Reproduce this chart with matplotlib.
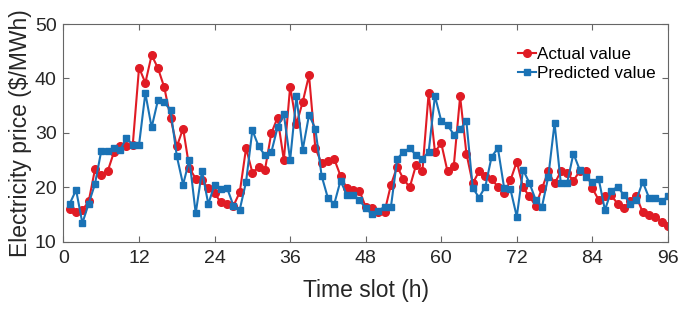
import matplotlib
matplotlib.use("Agg")
import matplotlib.pyplot as plt

# time slots (h)
hours = list(range(1, 97))

actual = [16.0, 15.5, 15.8, 17.4, 23.3, 22.3, 22.9, 26.4, 27.5, 27.5, 27.8, 42.0,
          39.2, 44.3, 41.9, 38.4, 32.8, 27.5, 30.8, 23.5, 21.6, 21.3, 19.8, 18.9,
          17.2, 16.9, 16.6, 19.1, 27.2, 22.7, 23.7, 23.2, 29.9, 32.8, 25.0, 38.5,
          31.6, 35.7, 40.6, 27.2, 24.4, 24.9, 25.2, 22.1, 19.8, 19.5, 19.4, 16.4,
          16.1, 15.5, 15.5, 20.4, 23.8, 21.5, 20.0, 24.1, 22.9, 37.3, 26.5, 28.1,
          22.9, 24.0, 36.7, 26.2, 20.7, 22.9, 22.1, 21.5, 20.1, 18.9, 21.3, 24.7,
          20.0, 18.3, 16.6, 19.8, 22.9, 20.7, 22.9, 22.6, 21.2, 23.0, 22.9, 19.8,
          17.7, 18.3, 18.5, 17.0, 16.1, 17.4, 18.3, 15.4, 14.9, 14.6, 13.7, 12.9]

predicted = [17.0, 19.5, 13.4, 17.0, 20.6, 26.7, 26.7, 27.2, 26.9, 29.0, 27.8, 27.8,
             37.3, 31.0, 36.0, 35.6, 34.2, 25.7, 20.5, 25.1, 15.2, 23.0, 16.9, 20.5,
             19.7, 19.8, 16.6, 15.9, 21.0, 30.5, 27.5, 25.9, 26.4, 31.0, 33.4, 25.0,
             36.7, 26.9, 33.3, 30.8, 22.1, 18.0, 16.9, 21.2, 18.6, 18.6, 17.7, 16.1,
             15.1, 15.7, 16.4, 16.3, 25.2, 26.5, 27.2, 25.9, 25.2, 26.5, 36.8, 32.2,
             31.4, 29.7, 30.7, 32.1, 19.9, 18.1, 20.1, 25.6, 27.2, 19.8, 19.6, 14.6,
             23.2, 20.8, 17.7, 16.4, 21.9, 31.8, 20.7, 20.8, 26.2, 23.2, 21.9, 21.0,
             21.6, 15.8, 19.3, 20.1, 18.6, 17.0, 17.7, 21.0, 18.1, 18.0, 17.4, 18.3]

xticks = [0, 12, 24, 36, 48, 60, 72, 84, 96]
yticks = [10, 20, 30, 40, 50]

plt.rcParams['font.family'] = ['Liberation Sans', 'DejaVu Sans']

fig = plt.figure(figsize=(6.85, 3.09), dpi=100)
ax = fig.add_axes([0.0927, 0.218, 0.8823, 0.704])

red = '#e01b24'
blue = '#1a72b5'

ax.plot(hours, actual, color=red, marker='o', markersize=5.5, linewidth=1.5,
        label='Actual value')
ax.plot(hours, predicted, color=blue, marker='s', markersize=5, linewidth=1.5,
        label='Predicted value')

ax.set_xlim(0, 96)
ax.set_ylim(10, 50)
ax.set_xticks(xticks)
ax.set_yticks(yticks)

for s in ax.spines.values():
    s.set_color('#666666')
    s.set_linewidth(0.8)
ax.tick_params(direction='in', top=True, right=True, length=4, width=0.8,
               color='#666666', labelsize=14, labelcolor='#262626')
ax.tick_params(axis='x', pad=6)
ax.tick_params(axis='y', pad=5)

ax.set_xlabel('Time slot (h)', fontsize=16.5, color='#262626', labelpad=9)
ax.set_ylabel('Electricity price ($/MWh)', fontsize=16.5, color='#262626', labelpad=2)

ax.legend(loc='upper left', bbox_to_anchor=(0.733, 0.95), frameon=False,
          fontsize=12.3, handlelength=1.0, handletextpad=0.1, labelspacing=0.25,
          borderpad=0.2)

fig.savefig('out.png', dpi=100)
